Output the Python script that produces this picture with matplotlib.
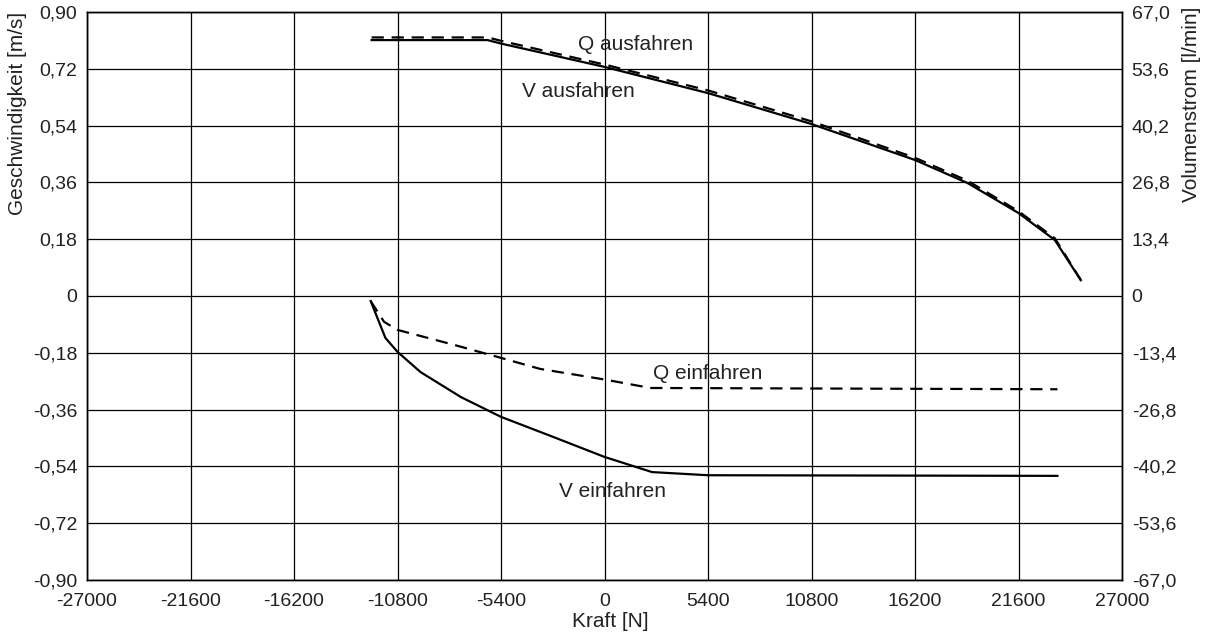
import matplotlib
matplotlib.use("Agg")
import matplotlib.pyplot as plt
from matplotlib.ticker import FixedLocator, FixedFormatter

plt.rcParams['font.family'] = ['Liberation Sans', 'DejaVu Sans']

# Data
v_aus_f = [-12150, -6100, -5400, 0, 5400, 10800, 16200, 18940, 21600, 23500, 24850]
v_aus = [0.811, 0.811, 0.800, 0.726, 0.643, 0.545, 0.431, 0.358, 0.263, 0.177, 0.050]

q_aus_f = [-12150, -6100, -5400, 0, 5400, 10800, 16200, 18940, 21600, 23500, 24850]
q_aus = [61.0, 61.0, 60.2, 54.6, 48.5, 41.2, 32.6, 27.2, 20.0, 13.6, 3.8]

v_ein_f = [-12200, -11430, -10800, -9600, -7500, -5400, -2660, 0, 2480, 5400, 23630]
v_ein = [-0.016, -0.133, -0.177, -0.241, -0.320, -0.383, -0.447, -0.510, -0.558, -0.568, -0.570]

q_ein_f = [-12200, -11500, -10800, -7870, -5400, -3360, 0, 2400, 23630]
q_ein = [-1.2, -6.1, -8.0, -11.5, -14.6, -17.2, -19.7, -21.7, -22.0]

x_ticks = [-27000, -21600, -16200, -10800, -5400, 0, 5400, 10800, 16200, 21600, 27000]
y_ticks = [-0.90, -0.72, -0.54, -0.36, -0.18, 0, 0.18, 0.36, 0.54, 0.72, 0.90]
y_labels = ["-0,90", "-0,72", "-0,54", "-0,36", "-0,18", "0", "0,18", "0,36", "0,54", "0,72", "0,90"]
y2_ticks = [-67.0, -53.6, -40.2, -26.8, -13.4, 0, 13.4, 26.8, 40.2, 53.6, 67.0]
y2_labels = ["-67,0", "-53,6", "-40,2", "-26,8", "-13,4", "0", "13,4", "26,8", "40,2", "53,6", "67,0"]

fig = plt.figure(figsize=(12.08, 6.36), dpi=100)
ax = fig.add_axes([87/1208, 56/636, 1035/1208, 568/636])
ax2 = ax.twinx()

ax.set_xlim(-27000, 27000)
ax.set_ylim(-0.9, 0.9)
ax2.set_ylim(-67, 67)

ax.xaxis.set_major_locator(FixedLocator(x_ticks))
ax.xaxis.set_major_formatter(FixedFormatter([str(t) for t in x_ticks]))
ax.yaxis.set_major_locator(FixedLocator(y_ticks))
ax.yaxis.set_major_formatter(FixedFormatter(y_labels))
ax2.yaxis.set_major_locator(FixedLocator(y2_ticks))
ax2.yaxis.set_major_formatter(FixedFormatter(y2_labels))

ax.grid(True, color='black', linewidth=0.9)
ax.set_axisbelow(True)
tc = '#222222'
ax.tick_params(axis='x', length=0, labelsize=14, colors=tc, pad=9)
ax.tick_params(axis='y', length=0, labelsize=14, colors=tc, pad=7)
ax2.tick_params(axis='y', length=0, labelsize=14, colors=tc, pad=7)
for a in (ax, ax2):
    for s in a.spines.values():
        s.set_linewidth(1.0)
        s.set_color('black')

ax.plot(v_aus_f, v_aus, color='black', lw=1.6, solid_joinstyle='round')
ax.plot(v_ein_f, v_ein, color='black', lw=1.6, solid_joinstyle='round')
ax2.plot(q_aus_f, q_aus, color='black', lw=1.6, dashes=(5.5, 3.5))
ax2.plot(q_ein_f, q_ein, color='black', lw=1.6, dashes=(5.5, 3.5))

ax.set_xlabel("Kraft [N]", fontsize=15, color=tc)
ax.set_ylabel("Geschwindigkeit [m/s]", fontsize=15, color=tc)
ax2.set_ylabel("Volumenstrom [l/min]", fontsize=15, color=tc)
ax.xaxis.set_label_coords(0.506, -0.056)
ax.yaxis.set_label_coords(-0.058, 0.822)
ax2.yaxis.set_label_coords(1.058, 0.838)

ax.text(1643, 0.779, "Q ausfahren", fontsize=15, color=tc, ha='center', va='baseline')
ax.text(-1356, 0.631, "V ausfahren", fontsize=15, color=tc, ha='center', va='baseline')
ax.text(5400, -0.263, "Q einfahren", fontsize=15, color=tc, ha='center', va='baseline')
ax.text(417, -0.637, "V einfahren", fontsize=15, color=tc, ha='center', va='baseline')

fig.savefig("out.png", dpi=100)
